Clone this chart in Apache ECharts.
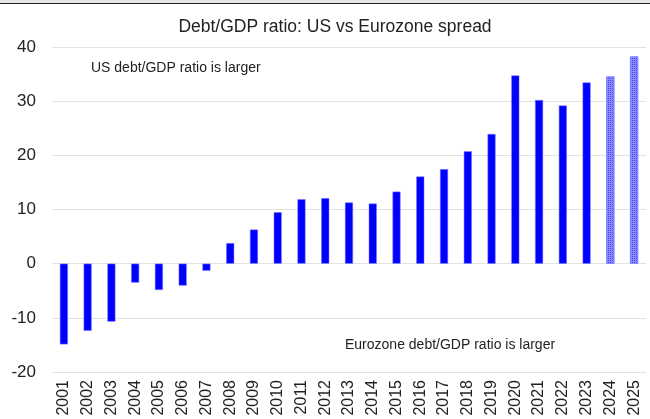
<!DOCTYPE html>
<html>
<head>
<meta charset="utf-8">
<script src="https://cdn.jsdelivr.net/npm/echarts@6/dist/echarts.min.js"></script>
<style>
html,body{margin:0;padding:0;background:#fff;}
#c{width:650px;height:419px;}
</style>
</head>
<body>
<div id="c"></div>
<script>
var years = ['2001','2002','2003','2004','2005','2006','2007','2008','2009','2010','2011','2012','2013','2014','2015','2016','2017','2018','2019','2020','2021','2022','2023','2024','2025'];
var spread = [-14.9,-12.4,-10.7,-3.5,-4.85,-4.05,-1.3,3.8,6.3,9.5,11.9,12.1,11.3,11.1,13.3,16.1,17.45,20.75,23.95,34.75,30.2,29.2,33.45,34.55,38.25];
var projected = ['2024','2025'];
var yTicks = [-20,-10,0,10,20,30,40];

var chart = echarts.init(document.getElementById('c'));
var data = years.map(function(y,i){
  var d = {value: spread[i]};
  if (projected.indexOf(y) >= 0) {
    d.itemStyle = {
      color: '#8c8cff',
      decal: {symbol:'rect', symbolSize:1, dashArrayX:[1,1], dashArrayY:[1,1], color:'rgba(0,0,255,0.55)', rotation:0}
    };
  }
  return d;
});
chart.setOption({
  animation:false,
  title:{text:'Debt/GDP ratio: US vs Eurozone spread', left:330, top:13, textAlign:'center',
    textStyle:{fontFamily:'Liberation Sans, Arial', fontSize:17.5, fontWeight:'normal', color:'#222'}},
  grid:{left:52, right:4, top:47, bottom:47},
  xAxis:{type:'category', data:years,
    axisLine:{show:false}, axisTick:{show:false},
    axisLabel:{rotate:90, interval:0, fontFamily:'Liberation Sans, Arial', fontSize:16, color:'#222', margin:8}},
  yAxis:{type:'value', min:yTicks[0], max:yTicks[yTicks.length-1], interval:10,
    axisLabel:{fontFamily:'Liberation Sans, Arial', fontSize:17, color:'#222', margin:16},
    splitLine:{lineStyle:{color:'#e2e2e2', width:1}}},
  series:[{type:'bar', data:data, barWidth:8,
    itemStyle:{color:'#0000ff', borderColor:'#7a7aff', borderWidth:0.5}}],
  graphic:[
    {type:'rect', shape:{x:0,y:0,width:650,height:3}, style:{fill:'#e6e6e6'}},
    {type:'line', shape:{x1:0,y1:3.5,x2:650,y2:3.5}, style:{stroke:'#222', lineWidth:1}},
    {type:'text', left:91, top:61, style:{text:'US debt/GDP ratio is larger', font:'14px Liberation Sans, Arial', fill:'#222'}},
    {type:'text', left:345, top:338, style:{text:'Eurozone debt/GDP ratio is larger', font:'14px Liberation Sans, Arial', fill:'#222'}}
  ]
});
</script>
</body>
</html>
